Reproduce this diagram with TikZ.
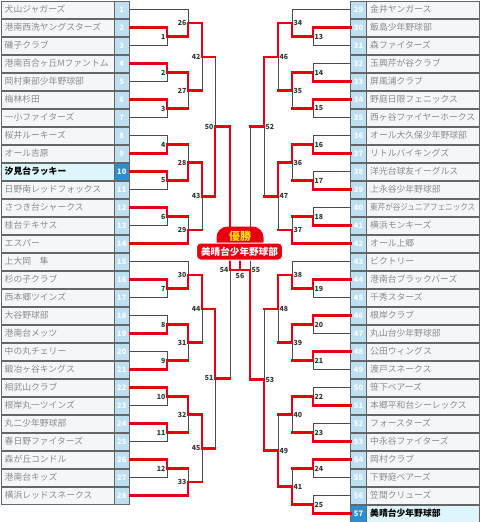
\documentclass[tikz,border=0pt]{standalone}
\usepackage{fontspec}
\setmainfont{Noto Sans CJK JP}
\usepackage{graphicx}
\usepackage{xcolor}
\usepackage{tikz}
\usetikzlibrary{calc}
\definecolor{winred}{HTML}{E60012}
\definecolor{wiregray}{HTML}{4A4A4A}
\definecolor{numblue}{HTML}{BCDFF2}
\definecolor{hiblue}{HTML}{2B8FD4}
\definecolor{hicell}{HTML}{DDF5FC}
\definecolor{cellbg}{HTML}{F4F7FA}
\definecolor{namegray}{HTML}{8A8A8A}
\definecolor{crownyellow}{HTML}{FFE400}
\newsavebox\namebox
\newcommand{\fitname}[1]{\sbox\namebox{#1}\ifdim\wd\namebox>105pt\resizebox{105pt}{\height}{\usebox\namebox}\else\usebox\namebox\fi}

\begin{document}
\begin{tikzpicture}[x=1pt,y=-1pt,
    cell/.style={draw=black!60, fill=cellbg, line width=0.8pt, minimum width=128.5pt, minimum height=17pt, inner sep=0pt},
    cellhi/.style={cell, fill=hicell},
    numcell/.style={draw=black!60, fill=numblue, line width=0.8pt, minimum width=15.5pt, minimum height=17pt, inner sep=0pt, text=white, font=\fontsize{7.5}{8}\selectfont\bfseries},
    numhi/.style={numcell, fill=hiblue},
    namelab/.style={anchor=west, inner sep=0pt, text=namegray, font=\fontsize{8.8}{9}\selectfont},
    namehi/.style={namelab, text=black, font=\fontsize{8.8}{9}\selectfont\bfseries},
    wire/.style={draw=wiregray, line width=0.9pt},
    win/.style={draw=winred, line width=2.5pt, line cap=rect},
    mlab/.style={inner sep=0pt, text=black!80, font=\fontsize{7}{8}\selectfont\bfseries},
    dome/.style={fill=winred, rounded corners=11pt, minimum width=47pt, minimum height=26pt, inner sep=0pt},
    champbar/.style={draw=white, line width=1pt, fill=winred, rounded corners=4pt, minimum width=86pt, minimum height=17pt, inner sep=0pt, text=white, font=\fontsize{9.6}{10}\selectfont\bfseries}
]
\useasboundingbox (0,0) rectangle (480,522);

% bracket columns
\coordinate (L1) at (167,0); \coordinate (L2) at (188,0); \coordinate (L3) at (202,0);
\coordinate (L4) at (215,0); \coordinate (L5) at (230,0);
\coordinate (R1) at (313,0); \coordinate (R2) at (292,0); \coordinate (R3) at (278,0);
\coordinate (R4) at (264,0); \coordinate (R5) at (250,0);

% left teams
\foreach \k/\nm in {1/犬山ジャガーズ, 2/港南西洗ヤングスターズ, 3/磯子クラブ, 4/港南百合ヶ丘Mファントム,
    5/岡村東部少年野球部, 6/梅林杉田, 7/一小ファイターズ, 8/桜井ルーキーズ, 9/オール吉原,
    10/汐見台ラッキー, 11/日野南レッドフォックス, 12/さつき台シャークス, 13/桂台テキサス,
    14/エスパー, 15/上大岡　隼, 16/杉の子クラブ, 17/西本郷ツインズ, 18/大谷野球部,
    19/港南台メッツ, 20/中の丸チェリー, 21/鍛冶ヶ谷キングス, 22/相武山クラブ,
    23/根岸丸一ツインズ, 24/丸二少年野球部, 25/春日野ファイターズ, 26/森が丘コンドル,
    27/港南台キッズ, 28/横浜レッドスネークス}{
  \pgfmathsetmacro\yy{(\k-1)*18+9.5}
  \ifnum\k=10 \def\cs{cellhi}\def\ns{numhi}\def\ls{namehi}\else\def\cs{cell}\def\ns{numcell}\def\ls{namelab}\fi
  \node[\cs] (b\k) at (65.25,\yy) {};
  \node[\ns] (t\k) at (121.75,\yy) {\k};
  \node[\ls] (n\k) at (4.5,\yy) {\fitname{\nm}};
  \coordinate (s\k) at (t\k.east);
}

% right teams
\foreach \k/\nm in {29/金井ヤンガース, 30/飯島少年野球部, 31/森ファイターズ, 32/玉興芹が谷クラブ,
    33/屏風浦クラブ, 34/野庭日限フェニックス, 35/西ヶ谷ファイヤーホークス, 36/オール大久保少年野球部,
    37/リトルバイキングズ, 38/洋光台球友イーグルス, 39/上永谷少年野球部, 40/東芹が谷ジュニアフェニックス,
    41/横浜モンキーズ, 42/オール上郷, 43/ビクトリー, 44/港南台ブラックバーズ, 45/千秀スターズ,
    46/根岸クラブ, 47/丸山台少年野球部, 48/公田ウィングス, 49/渡戸スネークス, 50/笹下ベアーズ,
    51/本郷平和台シーレックス, 52/フォースターズ, 53/中永谷ファイターズ, 54/岡村クラブ,
    55/下野庭ベアーズ, 56/笠間クリューズ, 57/美晴台少年野球部}{
  \pgfmathsetmacro\yy{(\k-29)*18+9.5}
  \ifnum\k=57 \def\cs{cellhi}\def\ns{numhi}\def\ls{namehi}\else\def\cs{cell}\def\ns{numcell}\def\ls{namelab}\fi
  \node[\cs] (b\k) at (415,\yy) {};
  \node[\ns] (t\k) at (358.5,\yy) {\k};
  \node[\ls] (n\k) at (370,\yy) {\fitname{\nm}};
  \coordinate (s\k) at (t\k.west);
}

% left bouts: number / winner / loser / column / loser line
\foreach \n/\w/\l/\lv/\lst in {1/s2/s3/L1/wire, 2/s4/s5/L1/wire, 3/s6/s7/L1/wire, 4/s9/s8/L1/wire,
    5/s10/s11/L1/wire, 6/s12/s13/L1/wire, 7/s16/s17/L1/wire, 8/s19/s18/L1/wire, 9/s21/s20/L1/wire,
    10/s22/s23/L1/wire, 11/s24/s25/L1/wire, 12/s26/s27/L1/wire,
    26/m1/s1/L2/wire, 27/m2/m3/L2/win, 28/m5/m4/L2/win, 29/s14/m6/L2/win,
    30/m7/s15/L2/wire, 31/m8/m9/L2/win, 32/m10/m11/L2/win, 33/s28/m12/L2/win,
    42/m26/m27/L3/win, 43/m28/m29/L3/win, 44/m30/m31/L3/win, 45/m32/m33/L3/win,
    50/m43/m42/L4/win, 51/m44/m45/L4/win}{
  \path (\w) -- (\l) coordinate[pos=.5] (c\n);
  \coordinate (m\n) at (c\n -| \lv);
  \draw[wire] (\l) -| (m\n);
  \draw[\lst] (\l) -- (\l -| m\n);
  \draw[win] (\w) -| (m\n);
  \node[mlab, anchor=east] (k\n) at ([xshift=-1.5pt]m\n) {\n};
}

% right bouts
\foreach \n/\w/\l/\lv/\lst in {13/s30/s31/R1/wire, 14/s33/s32/R1/wire, 15/s34/s35/R1/wire,
    16/s37/s36/R1/wire, 17/s39/s38/R1/wire, 18/s41/s40/R1/wire, 19/s44/s45/R1/wire,
    20/s46/s47/R1/wire, 21/s48/s49/R1/wire, 22/s51/s50/R1/wire, 23/s53/s52/R1/wire,
    24/s54/s55/R1/wire, 25/s57/s56/R1/wire,
    34/m13/s29/R2/wire, 35/m14/m15/R2/win, 36/m16/m17/R2/win, 37/s42/m18/R2/win,
    38/m19/s43/R2/wire, 39/m20/m21/R2/win, 40/m22/m23/R2/win, 41/m25/m24/R2/win,
    46/m34/m35/R3/win, 47/m36/m37/R3/win, 48/m38/m39/R3/win, 49/m41/m40/R3/win,
    52/m46/m47/R4/win, 53/m49/m48/R4/win}{
  \path (\w) -- (\l) coordinate[pos=.5] (c\n);
  \coordinate (m\n) at (c\n -| \lv);
  \draw[wire] (\l) -| (m\n);
  \draw[\lst] (\l) -- (\l -| m\n);
  \draw[win] (\w) -| (m\n);
  \node[mlab, anchor=west] (k\n) at ([xshift=1.5pt]m\n) {\n};
}

% semi finals and final
\coordinate (m54) at (230,270);
\coordinate (m55) at (250,270);
\coordinate (m56) at (240,270);
\draw[wire] (m51) -| (m54);
\draw[win] (m51) -- (m51 -| m54);
\draw[win] (m50) -| (m54);
\draw[wire] (m52) -| (m55);
\draw[win] (m52) -- (m52 -| m55);
\draw[win] (m53) -| (m55);
\draw[win] (m54) -- (m56);
\draw[win] (m55) -- (m56) -- ++(0,-14);

% champion
\node[dome] (crown) at (240,239.5) {};
\node[inner sep=0pt, text=crownyellow, font=\fontsize{11}{12}\selectfont\bfseries] (yusho) at (240,236.5) {優勝};
\node[champbar] (champ) at (239.5,251.5) {美晴台少年野球部};
\node[mlab, anchor=east] (k54) at ([xshift=-1.5pt]m54) {54};
\node[mlab, anchor=west] (k55) at ([xshift=1.5pt]m55) {55};
\node[mlab, anchor=north] (k56) at ([yshift=-3pt]m56) {56};
\end{tikzpicture}
\end{document}
